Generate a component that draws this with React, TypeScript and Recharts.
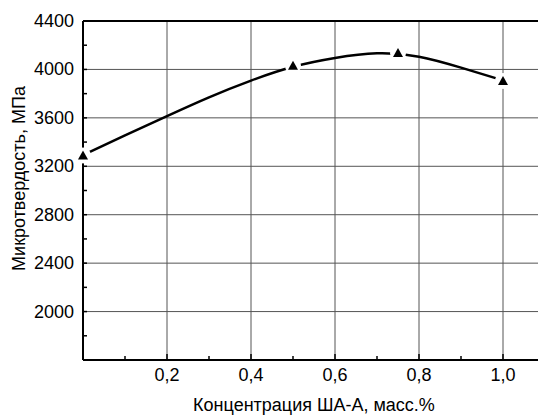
import {
  CartesianGrid,
  Line,
  LineChart,
  XAxis,
  YAxis,
} from "recharts";

// measured points (triangles)
const concentration = [0, 0.5, 0.75, 1.0];
const hardness = [3290, 4030, 4135, 3905];

// fitted curve
const fitConcentration = [0, 0.1, 0.2, 0.3, 0.4, 0.5, 0.6, 0.7, 0.8, 0.9, 1.0];
const fitHardness = [3292, 3455, 3615, 3770, 3908, 4022, 4095, 4133, 4105, 4015, 3910];

const xMajor = [0.2, 0.4, 0.6, 0.8, 1.0];
const xMinor = [0.1, 0.3, 0.5, 0.7, 0.9];
const yMajor = [2000, 2400, 2800, 3200, 3600, 4000, 4400];
const yMinor = [1800, 2200, 2600, 3000, 3400, 3800, 4200];

const xLabel = "Концентрация ША-А, масс.%";
const yLabel = "Микротвердость, МПа";

const points = concentration.map((x, i) => ({ x, y: hardness[i] }));
const fit = fitConcentration.map((x, i) => ({ x, y: fitHardness[i] }));

const FONT = "'Liberation Sans', Arial, sans-serif";

const fmt = (v: number) => v.toFixed(1).replace(".", ",");

const BottomTick = ({ x, y, payload }: any) => {
  const v = payload.value;
  const major = xMajor.some((m) => Math.abs(m - v) < 1e-6);
  return (
    <g>
      <line x1={x} x2={x} y1={y} y2={y - (major ? 6 : 4)} stroke="#000" strokeWidth={1.5} />
      {major && (
        <text x={x} y={y + 21} textAnchor="middle" fontSize={18} fontFamily={FONT} fill="#000">
          {fmt(v)}
        </text>
      )}
    </g>
  );
};

const TopTick = ({ x, y }: any) => (
  <line x1={x} x2={x} y1={y} y2={y + 4} stroke="#000" strokeWidth={1.5} />
);

const LeftTick = ({ x, y, payload }: any) => {
  const v = payload.value;
  const major = yMajor.includes(v);
  return (
    <g>
      <line x1={x} x2={x + 4} y1={y} y2={y} stroke="#000" strokeWidth={1.5} />
      {major && (
        <text x={x - 9} y={y + 6} textAnchor="end" fontSize={18} fontFamily={FONT} fill="#000">
          {v}
        </text>
      )}
    </g>
  );
};

const Marker = (props: any) => {
  const { cx, cy, index } = props;
  return (
    <g key={`m-${index}`}>
      <circle cx={cx} cy={cy} r={8} fill="#fff" />
      <path d={`M${cx},${cy - 5} L${cx + 5},${cy + 4} L${cx - 5},${cy + 4} Z`} fill="#000" />
    </g>
  );
};

export default function App() {
  return (
    <div style={{ position: "absolute", left: 0, top: 0, width: 538, height: 416, overflow: "hidden", background: "#fff" }}>
      <LineChart width={545} height={416} margin={{ top: 0, right: 0, bottom: 0, left: 0 }}>
        <CartesianGrid
          stroke="#555"
          strokeWidth={1}
          verticalValues={xMajor}
          horizontalValues={yMajor}
        />
        <XAxis
          xAxisId="top"
          orientation="top"
          dataKey="x"
          type="number"
          domain={[0, 1.1]}
          ticks={[...xMinor, ...xMajor]}
          height={21}
          tickSize={0}
          tickLine={false}
          axisLine={{ stroke: "#000", strokeWidth: 2 }}
          tick={<TopTick />}
        />
        <XAxis
          dataKey="x"
          type="number"
          domain={[0, 1.1]}
          ticks={[0.1, 0.2, 0.3, 0.4, 0.5, 0.6, 0.7, 0.8, 0.9, 1.0]}
          height={56}
          tickSize={0}
          tickMargin={0}
          tickLine={false}
          axisLine={{ stroke: "#000", strokeWidth: 2 }}
          tick={<BottomTick />}
          label={{
            content: ({ viewBox }: any) => (
              <text
                x={viewBox.x + viewBox.width / 2}
                y={viewBox.y + viewBox.height - 5}
                textAnchor="middle"
                fontSize={18}
                fontFamily={FONT}
                fill="#000"
              >
                {xLabel}
              </text>
            ),
          }}
        />
        <YAxis
          type="number"
          domain={[1600, 4400]}
          ticks={[...yMinor, ...yMajor].sort((a, b) => a - b)}
          width={83}
          tickSize={0}
          tickMargin={0}
          tickLine={false}
          axisLine={{ stroke: "#000", strokeWidth: 2 }}
          tick={<LeftTick />}
          label={{
            content: ({ viewBox }: any) => {
              const cx = viewBox.x + 19;
              const cy = viewBox.y + viewBox.height / 2 - 12;
              return (
                <text
                  x={cx}
                  y={cy}
                  transform={`rotate(-90, ${cx}, ${cy})`}
                  textAnchor="middle"
                  dominantBaseline="central"
                  fontSize={18}
                  fontFamily={FONT}
                  fill="#000"
                >
                  {yLabel}
                </text>
              );
            },
          }}
        />
        <Line
          data={fit}
          dataKey="y"
          type="natural"
          stroke="#000"
          strokeWidth={2.5}
          dot={false}
          activeDot={false}
          isAnimationActive={false}
        />
        <Line
          data={points}
          dataKey="y"
          stroke="none"
          dot={Marker}
          activeDot={false}
          isAnimationActive={false}
        />
      </LineChart>
    </div>
  );
}
